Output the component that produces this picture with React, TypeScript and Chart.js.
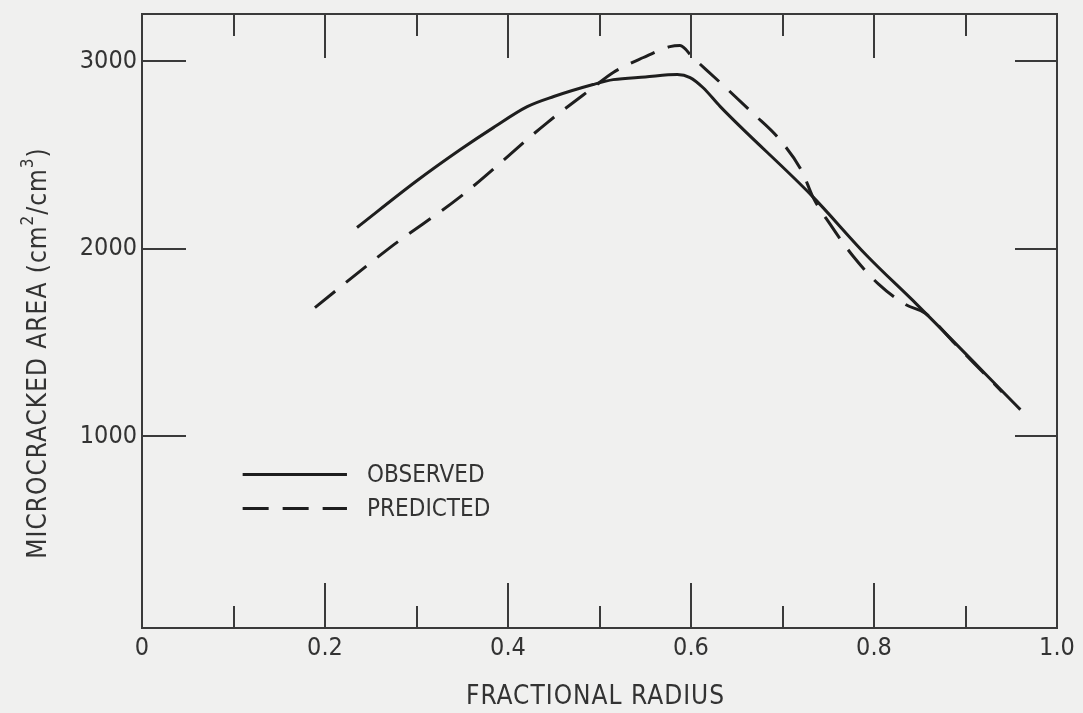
import React, { useEffect, useRef } from 'react';
import { Chart, registerables } from 'chart.js';

Chart.register(...registerables);

// ---- data ----
const observedX = [0.235, 0.3, 0.348, 0.384, 0.421, 0.45, 0.493, 0.515, 0.55, 0.585, 0.599, 0.613, 0.632, 0.733, 0.792, 0.847, 0.96];
const observedY = [2112, 2360, 2528, 2645, 2757, 2811, 2875, 2901, 2915, 2928, 2912, 2859, 2757, 2277, 1963, 1701, 1141];

const predictedX = [0.189, 0.271, 0.348, 0.443, 0.493, 0.515, 0.548, 0.577, 0.588, 0.602, 0.632, 0.668, 0.697, 0.722, 0.733, 0.752, 0.777, 0.805, 0.835, 0.856, 0.886, 0.94];
const predictedY = [1685, 2005, 2277, 2672, 2859, 2939, 3019, 3077, 3083, 3019, 2885, 2720, 2581, 2405, 2277, 2130, 1960, 1810, 1700, 1655, 1505, 1235];

const xTickValues = [0, 0.2, 0.4, 0.6, 0.8, 1.0];
const xTickLabels = ['0', '0.2', '0.4', '0.6', '0.8', '1.0'];
const xMajorMarks = [0.2, 0.4, 0.6, 0.8];
const xMinorMarks = [0.1, 0.3, 0.5, 0.7, 0.9];
const yTickValues = [1000, 2000, 3000];
const yTickLabels = ['1000', '2000', '3000'];

const seriesNames = ['OBSERVED', 'PREDICTED'];
const xTitle = 'FRACTIONAL RADIUS';
const yTitleParts = [
  { t: 'MICROCRACKED AREA (cm', sup: false },
  { t: '2', sup: true },
  { t: '/cm', sup: false },
  { t: '3', sup: true },
  { t: ')', sup: false },
];

const FONT = '"DejaVu Sans Condensed", "DejaVu Sans", sans-serif';
const INK = '#1e1e1e';
const AXIS = '#3a3a3a';
const TEXT = '#333333';

const framePlugin = {
  id: 'frameTicks',
  afterDatasetsDraw(chart: any) {
    const { ctx, chartArea } = chart;
    const xs = chart.scales.x;
    const ys = chart.scales.y;
    const { left, right, top, bottom } = chartArea;
    ctx.save();
    ctx.strokeStyle = AXIS;
    ctx.lineWidth = 2;
    ctx.setLineDash([]);
    ctx.lineCap = 'butt';
    ctx.beginPath();
    ctx.rect(left, top, right - left, bottom - top);
    ctx.stroke();
    ctx.beginPath();
    for (const v of xMajorMarks) {
      const p = Math.round(xs.getPixelForValue(v));
      ctx.moveTo(p, bottom); ctx.lineTo(p, bottom - 45);
      ctx.moveTo(p, top); ctx.lineTo(p, top + 44);
    }
    for (const v of xMinorMarks) {
      const p = Math.round(xs.getPixelForValue(v));
      ctx.moveTo(p, bottom); ctx.lineTo(p, bottom - 22);
      ctx.moveTo(p, top); ctx.lineTo(p, top + 22);
    }
    for (const v of yTickValues) {
      const p = Math.round(ys.getPixelForValue(v));
      ctx.moveTo(left, p); ctx.lineTo(left + 44, p);
      ctx.moveTo(right, p); ctx.lineTo(right - 42, p);
    }
    ctx.stroke();

    // legend
    const legendY = [795, 613];
    const lx0 = xs.getPixelForValue(0.11);
    const lx1 = xs.getPixelForValue(0.224);
    const tx = xs.getPixelForValue(0.246);
    chart.data.datasets.forEach((ds: any, i: number) => {
      const py = ys.getPixelForValue(legendY[i]);
      ctx.strokeStyle = ds.borderColor;
      ctx.lineWidth = ds.borderWidth;
      ctx.setLineDash(ds.borderDash || []);
      ctx.beginPath();
      ctx.moveTo(lx0, py); ctx.lineTo(lx1, py);
      ctx.stroke();
      ctx.setLineDash([]);
      ctx.fillStyle = TEXT;
      ctx.font = `24px ${FONT}`;
      ctx.textAlign = 'left';
      ctx.textBaseline = 'middle';
      ctx.fillText(seriesNames[i], tx, py + 1);
    });

    // x title
    ctx.fillStyle = TEXT;
    ctx.font = `26px ${FONT}`;
    ctx.textAlign = 'center';
    ctx.textBaseline = 'middle';
    try { (ctx as any).letterSpacing = '1px'; } catch (e) {}
    ctx.fillText(xTitle, (left + right) / 2 - 4, 697);

    // y title (rotated, with superscripts)
    ctx.save();
    ctx.translate(46, 353);
    ctx.rotate(-Math.PI / 2);
    ctx.textAlign = 'left';
    ctx.textBaseline = 'alphabetic';
    const big = `26px ${FONT}`;
    const small = `17px ${FONT}`;
    let total = 0;
    for (const part of yTitleParts) {
      ctx.font = part.sup ? small : big;
      total += ctx.measureText(part.t).width;
    }
    let x = -total / 2;
    for (const part of yTitleParts) {
      ctx.font = part.sup ? small : big;
      ctx.fillText(part.t, x, part.sup ? -13 : 0);
      x += ctx.measureText(part.t).width;
    }
    ctx.restore();
    ctx.restore();
  },
};

export default function App() {
  const ref = useRef<HTMLCanvasElement | null>(null);
  useEffect(() => {
    if (!ref.current) return;
    const chart = new Chart(ref.current, {
      type: 'line',
      data: {
        datasets: [
          {
            label: seriesNames[0],
            data: observedX.map((x, i) => ({ x, y: observedY[i] })),
            borderColor: INK,
            borderWidth: 3,
            pointRadius: 0,
            cubicInterpolationMode: 'monotone',
            fill: false,
          },
          {
            label: seriesNames[1],
            data: predictedX.map((x, i) => ({ x, y: predictedY[i] })),
            borderColor: INK,
            borderWidth: 3,
            borderDash: [26, 14],
            pointRadius: 0,
            cubicInterpolationMode: 'monotone',
            fill: false,
          },
        ],
      },
      options: {
        animation: false,
        responsive: true,
        maintainAspectRatio: false,
        layout: { padding: { top: 14, right: 26, left: 0, bottom: 0 } },
        plugins: { legend: { display: false }, tooltip: { enabled: false } },
        scales: {
          x: {
            type: 'linear',
            min: 0,
            max: 1,
            afterBuildTicks: (s: any) => { s.ticks = xTickValues.map((v) => ({ value: v })); },
            afterFit: (s: any) => { s.height = 85; s.paddingLeft = 0; s.paddingRight = 0; s.paddingTop = 0; s.paddingBottom = 0; },
            ticks: {
              autoSkip: false,
              maxRotation: 0,
              padding: 5,
              color: TEXT,
              font: { family: FONT, size: 25 },
              callback: (_v: any, i: number) => xTickLabels[i],
            },
            grid: { display: false, drawTicks: false },
            border: { display: false },
          },
          y: {
            type: 'linear',
            min: -24,
            max: 3251,
            afterBuildTicks: (s: any) => { s.ticks = yTickValues.map((v) => ({ value: v })); },
            afterFit: (s: any) => { s.width = 142; s.paddingLeft = 0; s.paddingRight = 0; s.paddingTop = 0; s.paddingBottom = 0; },
            ticks: {
              padding: 5,
              color: TEXT,
              font: { family: FONT, size: 25 },
              callback: (_v: any, i: number) => yTickLabels[i],
            },
            grid: { display: false, drawTicks: false },
            border: { display: false },
          },
        },
      },
      plugins: [framePlugin],
    } as any);
    return () => chart.destroy();
  }, []);
  return (
    <div style={{ position: 'fixed', left: 0, top: 0, width: 1083, height: 713, background: '#f0f0ef' }}>
      <canvas ref={ref} />
    </div>
  );
}
